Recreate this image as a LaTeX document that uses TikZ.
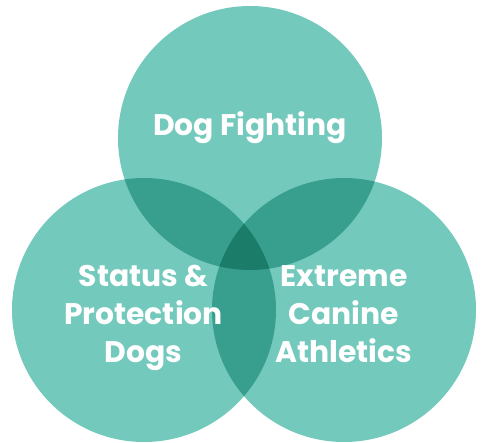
\documentclass[tikz,border=0pt]{standalone}
\usepackage{fontspec}
\setmainfont{Poppins}
\begin{document}
\begin{tikzpicture}[x=1pt,y=1pt,
  setfill/.style={fill=light},
  pairfill/.style={fill=mid},
  triplefill/.style={fill=deep},
  label/.style={text=white,font=\bfseries\fontsize{29.8}{38}\selectfont,align=center,anchor=base,inner sep=0pt}]
\definecolor{light}{HTML}{74C9BD}
\definecolor{mid}{HTML}{389F8E}
\definecolor{deep}{HTML}{1B7C6A}
\useasboundingbox (0,0) rectangle (482,442);
\def\R{132}
\coordinate (ctop) at (250,304);
\coordinate (cleft) at (144,132);
\coordinate (cright) at (344,132);
% single sets
\fill[setfill] (ctop) circle (\R);
\fill[setfill] (cleft) circle (\R);
\fill[setfill] (cright) circle (\R);
% pairwise overlaps
\begin{scope}
  \clip (ctop) circle (\R);
  \fill[pairfill] (cleft) circle (\R);
  \fill[pairfill] (cright) circle (\R);
\end{scope}
\begin{scope}
  \clip (cleft) circle (\R);
  \fill[pairfill] (cright) circle (\R);
\end{scope}
% centre overlap
\begin{scope}
  \clip (ctop) circle (\R);
  \clip (cleft) circle (\R);
  \fill[triplefill] (cright) circle (\R);
\end{scope}
% labels (base anchor = baseline of the last line)
\node[label] (fight) at (250,306) {Dog Fighting};
\node[label] (status) at (143.5,79) {Status \&\\Protection\\Dogs};
\node[label] (athletic) at (344,79) {Extreme\\Canine\\Athletics};
\end{tikzpicture}
\end{document}
